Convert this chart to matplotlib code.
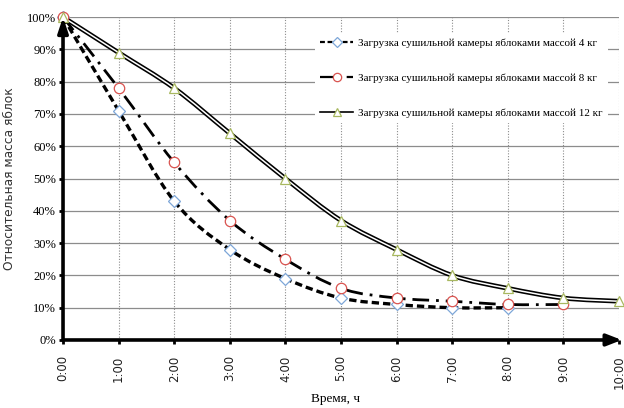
import numpy as np
import matplotlib
matplotlib.use("Agg")
import matplotlib.pyplot as plt
from matplotlib.path import Path
from matplotlib.patches import PathPatch
from matplotlib.lines import Line2D
import matplotlib.patheffects as pe

plt.rcParams['font.family'] = ['Liberation Serif', 'DejaVu Serif']

hours = [0, 1, 2, 3, 4, 5, 6, 7, 8, 9, 10]
tick_labels = ["0:00", "1:00", "2:00", "3:00", "4:00", "5:00", "6:00", "7:00", "8:00", "9:00", "10:00"]
yticks = [0, 0.1, 0.2, 0.3, 0.4, 0.5, 0.6, 0.7, 0.8, 0.9, 1.0]

t4 = [0, 1, 2, 3, 4, 5, 6, 7, 8]
m4 = [1.00, 0.71, 0.43, 0.28, 0.19, 0.13, 0.11, 0.10, 0.10]
t8 = [0, 1, 2, 3, 4, 5, 6, 7, 8, 9]
m8 = [1.00, 0.78, 0.55, 0.37, 0.25, 0.16, 0.13, 0.12, 0.11, 0.11]
t12 = [0, 1, 2, 3, 4, 5, 6, 7, 8, 9, 10]
m12 = [1.00, 0.89, 0.78, 0.64, 0.50, 0.37, 0.28, 0.20, 0.16, 0.13, 0.12]

labels = ["Загрузка сушильной камеры яблоками массой 4 кг",
          "Загрузка сушильной камеры яблоками массой 8 кг",
          "Загрузка сушильной камеры яблоками массой 12 кг"]


def smooth_path(x, y):
    p = np.column_stack([x, y]).astype(float)
    n = len(p)
    verts = [p[0]]
    codes = [Path.MOVETO]
    for i in range(n - 1):
        p0 = p[i - 1] if i > 0 else p[i]
        p1 = p[i]
        p2 = p[i + 1]
        p3 = p[i + 2] if i + 2 < n else p[i + 1]
        c1 = p1 + (p2 - p0) / 6.0
        c2 = p2 - (p3 - p1) / 6.0
        verts += [c1, c2, p2]
        codes += [Path.CURVE4] * 3
    return Path(verts, codes)


fig = plt.figure(figsize=(6.24, 4.08), dpi=100)
ax = fig.add_axes([0.101, 0.1667, 0.891, 0.7913])
ax.set_xlim(0, 10)
ax.set_ylim(0, 1.0)

# grid
for yv in yticks[1:]:
    ax.axhline(yv, color='#8c8c8c', lw=0.9, zorder=1)
for xv in hours[1:]:
    ax.axvline(xv, color='#8c8c8c', lw=0.8, ls=(0, (1, 1.5)), zorder=1)

# series
p4 = PathPatch(smooth_path(t4, m4), fill=False, ec='black', lw=2.4,
               ls=(0, (2.2, 1.2)), zorder=3, capstyle='butt')
ax.add_patch(p4)
p8 = PathPatch(smooth_path(t8, m8), fill=False, ec='black', lw=2.0,
               ls=(0, (6, 2.5, 1, 2.5)), zorder=3)
ax.add_patch(p8)
p12 = PathPatch(smooth_path(t12, m12), fill=False, ec='white', lw=1.1, zorder=3,
                path_effects=[pe.Stroke(linewidth=3.4, foreground='black'), pe.Normal()])
ax.add_patch(p12)

c4 = '#7da6d8'
c8 = '#d9534f'
c12 = '#a8b860'
ax.plot(t4, m4, ls='none', marker='D', ms=6.5, mfc='white', mec=c4, mew=0.9, zorder=4, clip_on=False)
ax.plot(t8, m8, ls='none', marker='o', ms=7.5, mfc='white', mec=c8, mew=0.9, zorder=4, clip_on=False)
ax.plot(t12, m12, ls='none', marker='^', ms=7, mfc='white', mec=c12, mew=0.9, zorder=4, clip_on=False)

# axes arrows
for s in ax.spines.values():
    s.set_visible(False)
ax.annotate('', xy=(1.005, 0), xytext=(0, 0), xycoords='axes fraction',
            arrowprops=dict(arrowstyle='-|>,head_length=0.9,head_width=0.35', lw=2.6, color='black',
                            shrinkA=0, shrinkB=0), annotation_clip=False, zorder=5)
ax.annotate('', xy=(0, 1.0), xytext=(0, 0), xycoords='axes fraction',
            arrowprops=dict(arrowstyle='-|>,head_length=0.9,head_width=0.3', lw=2.6, color='black',
                            shrinkA=0, shrinkB=0), annotation_clip=False, zorder=5)

ax.set_xticks(hours)
ax.set_xticklabels(tick_labels, rotation=90, fontsize=8.5, family='DejaVu Sans', color='#222222')
ax.set_yticks(yticks)
ax.set_yticklabels([f"{int(round(v*100))}%" for v in yticks], fontsize=9)
ax.tick_params(axis='both', length=3, width=2, color='black', pad=2)
ax.tick_params(axis='x', pad=8)

ax.set_ylabel("Относительная масса яблок", fontsize=8.8, family='DejaVu Sans', color='#333333')
ax.set_xlabel("Время, ч", fontsize=9.5)
ax.xaxis.set_label_coords(0.49, -0.165)
ax.yaxis.set_label_coords(-0.085, 0.5)

handles = [
    Line2D([], [], color='black', lw=1.6, ls=(0, (2.2, 1.2)), marker='D', ms=5, mfc='white', mec=c4, mew=0.9),
    Line2D([], [], color='black', lw=1.6, ls=(0, (6, 2.5, 1, 2.5)), marker='o', ms=6, mfc='white', mec=c8, mew=0.9),
    Line2D([], [], color='black', lw=1.2, marker='^', ms=6, mfc='white', mec=c12, mew=0.9),
]
leg = ax.legend(handles, labels, loc='upper right', bbox_to_anchor=(0.99, 0.968),
                fontsize=8, frameon=True, framealpha=1, edgecolor='white',
                labelspacing=2.25, handlelength=3.0, handletextpad=0.4, borderpad=0.5)
leg.get_frame().set_linewidth(0)
leg.set_zorder(6)

fig.savefig("out.png", dpi=100)
